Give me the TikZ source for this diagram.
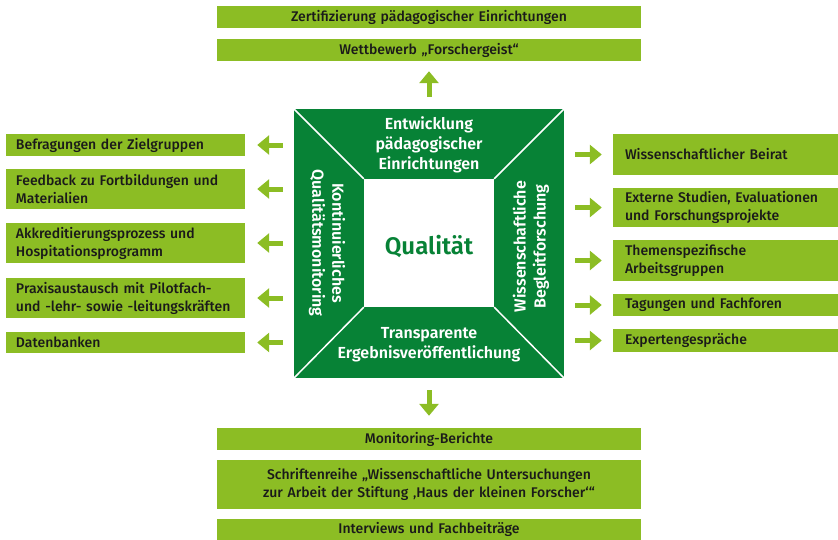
\documentclass[tikz,border=0pt]{standalone}
\usepackage{fontspec}
\setmainfont{Fira Sans}[UprightFont=* Medium, BoldFont=* SemiBold]
\usetikzlibrary{arrows.meta}
\definecolor{lg}{HTML}{8CBD24}
\definecolor{dg}{HTML}{078236}
\definecolor{tx}{HTML}{1A1A1A}
\begin{document}
\begin{tikzpicture}[x=1pt,y=-1pt,
  box/.style={fill=lg, inner ysep=0pt, text=tx, font=\fontsize{14}{18}\selectfont},
  lbox/.style={box, text width=219pt, inner xsep=10pt, align=left},
  rbox/.style={box, text width=201pt, inner xsep=12pt, align=left},
  cbox/.style={box, text width=404pt, inner xsep=10pt, align=center},
  sqtext/.style={text=white, align=center, font=\bfseries\fontsize{16}{20}\selectfont},
  arr/.style={draw=lg, line width=5pt, -{Triangle[length=12pt,width=19pt]}},
  diag/.style={draw=white, line width=1.5pt}]
\useasboundingbox (0,0) rectangle (838,539);
% central square
\node[fill=dg, minimum width=270pt, minimum height=269pt, inner sep=0pt] (sq) at (429,243.5) {};
\node[fill=white, minimum width=130pt, minimum height=128pt, inner sep=0pt] (in) at (429,243) {};
\draw[diag] (sq.north west) -- (in.north west);
\draw[diag] (sq.north east) -- (in.north east);
\draw[diag] (sq.south west) -- (in.south west);
\draw[diag] (sq.south east) -- (in.south east);
\node[text=dg, font=\bfseries\fontsize{24}{28}\selectfont] (q) at (429,246) {Qualität};
\node[sqtext] (ttop) at (429,145) {Entwicklung\\pädagogischer\\Einrichtungen};
\node[sqtext] (tbot) at (429,345) {Transparente\\Ergebnisveröffentlichung};
\node[sqtext, rotate=-90] (tleft) at (327,243) {Kontinuierliches\\Qualitätsmonitoring};
\node[sqtext, rotate=90] (tright) at (531,246.5) {Wissenschaftliche\\Begleitforschung};
% top
\node[cbox, minimum height=22pt] (t1) at (429,17) {Zertifizierung pädagogischer Einrichtungen};
\node[cbox, minimum height=22pt] (t2) at (429,50) {Wettbewerb „Forschergeist“};
% bottom
\node[cbox, minimum height=22pt] (b1) at (429,439) {Monitoring-Berichte};
\node[cbox, minimum height=49pt] (b2) at (429,484.5) {Schriftenreihe „Wissenschaftliche Untersuchungen\\zur Arbeit der Stiftung ‚Haus der kleinen Forscher‘“};
\node[cbox, minimum height=21pt] (b3) at (429,529.5) {Interviews und Fachbeiträge};
% left
\node[lbox, minimum height=22pt] (l1) at (125.5,145) {Befragungen der Zielgruppen};
\node[lbox, minimum height=40pt] (l2) at (125.5,189) {Feedback zu Fortbildungen und\\Materialien};
\node[lbox, minimum height=40pt] (l3) at (125.5,243) {Akkreditierungsprozess und\\Hospitationsprogramm};
\node[lbox, minimum height=40pt] (l4) at (125.5,298) {\mbox{Praxisaustausch mit Pilotfach-}\\\mbox{und -lehr- sowie -leitungskräften}};
\node[lbox, minimum height=21pt] (l5) at (125.5,342.5) {Datenbanken};
% right
\node[rbox, minimum height=41pt] (r1) at (725.5,154.5) {Wissenschaftlicher Beirat};
\node[rbox, minimum height=39pt] (r2) at (725.5,207.5) {Externe Studien, Evaluationen\\und Forschungsprojekte};
\node[rbox, minimum height=41pt] (r3) at (725.5,260.5) {Themenspezifische\\Arbeitsgruppen};
\node[rbox, minimum height=22pt] (r4) at (725.5,305) {Tagungen und Fachforen};
\node[rbox, minimum height=23pt] (r5) at (725.5,340.5) {Expertengespräche};
% arrows
\foreach \n in {l1,l2,l3,l4,l5}
  \draw[arr, shorten <=11pt, shorten >=12pt] (sq.west |- \n.east) -- (\n.east);
\foreach \n in {r1,r2,r3,r4,r5}
  \draw[arr, shorten <=11pt, shorten >=11pt] (sq.east |- \n.west) -- (\n.west);
\draw[arr, shorten <=12pt, shorten >=10pt] (sq.north) -- (t2.south);
\draw[arr, shorten <=12pt, shorten >=12pt] (sq.south) -- (b1.north);
\end{tikzpicture}
\end{document}
